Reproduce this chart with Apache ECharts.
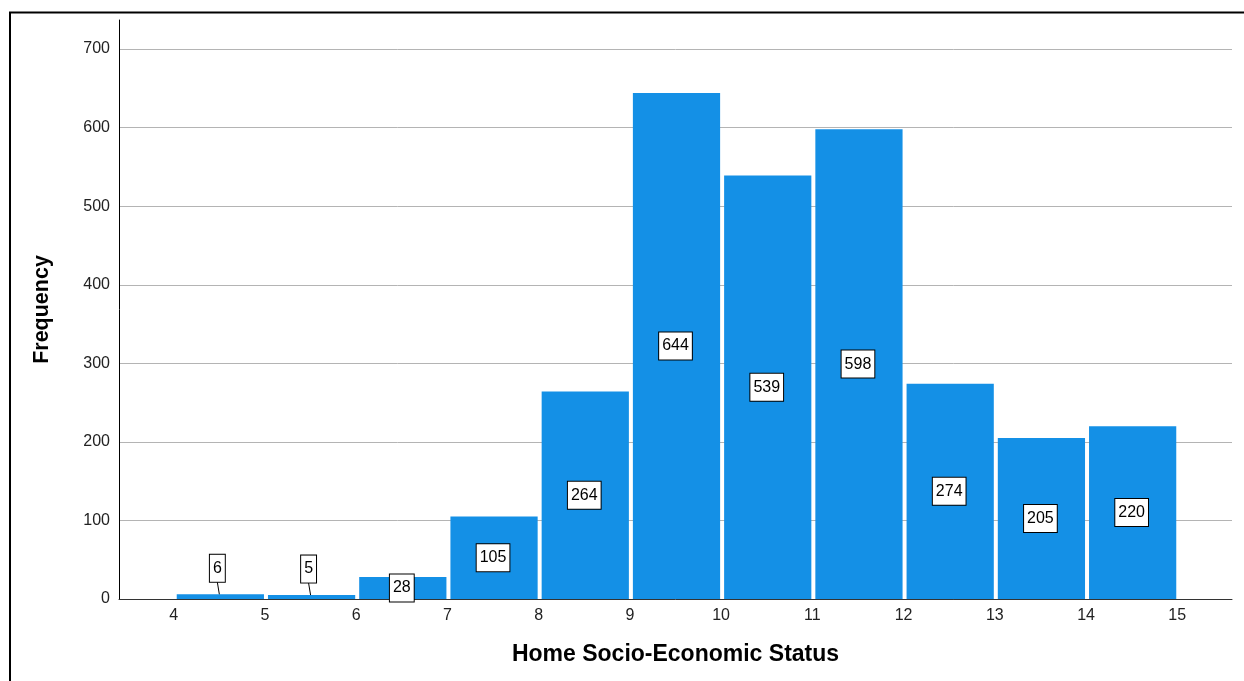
<!DOCTYPE html>
<html>
<head>
<meta charset="utf-8">
<script src="https://cdn.jsdelivr.net/npm/echarts@6/dist/echarts.min.js"></script>
<style>html,body{margin:0;padding:0;background:#fff}#c{width:1244px;height:681px}</style>
</head>
<body>
<div id="c"></div>
<script>
var binStarts = [4, 5, 6, 7, 8, 9, 10, 11, 12, 13, 14];
var binEnds = [5, 6, 7, 8, 9, 10, 11, 12, 13, 14, 15];
var frequencies = [6, 5, 28, 105, 264, 644, 539, 598, 274, 205, 220];
var xTickValues = [4, 5, 6, 7, 8, 9, 10, 11, 12, 13, 14, 15];
var xTitle = 'Home Socio-Economic Status';
var yTitle = 'Frequency';

var data = binStarts.map(function (s, i) { return [s, binEnds[i], frequencies[i]]; });
var chart = echarts.init(document.getElementById('c'), null, { renderer: 'canvas' });
var FONT = 'Arial, "Liberation Sans", sans-serif';

function renderItem(params, api) {
  var s = api.value(0), e = api.value(1), v = api.value(2);
  var p0 = api.coord([s, v]);
  var p1 = api.coord([e, 0]);
  var x0 = p0[0] + 3, x1 = p1[0] - 1;
  var children = [{
    type: 'rect',
    shape: { x: x0, y: p0[1], width: x1 - x0, height: p1[1] - p0[1] },
    style: { fill: '#1490e6' }
  }];
  var cx = (p0[0] + p1[0]) / 2;
  var barH = p1[1] - p0[1];
  var labelStyle = {
    text: String(v), font: '16px ' + FONT, fill: '#000',
    align: 'center', verticalAlign: 'middle',
    backgroundColor: '#fff', borderColor: '#000', borderWidth: 1,
    padding: [5, 3, 4, 3], lineHeight: 18
  };
  if (barH < 12) {
    var boxBottom = p0[1] - 12;
    children.push({
      type: 'line',
      shape: { x1: cx - 2, y1: boxBottom, x2: cx, y2: p0[1] },
      style: { stroke: '#000', lineWidth: 1 }
    });
    children.push({ type: 'text', x: cx - 2, y: boxBottom - 14, style: labelStyle, z2: 10 });
  } else {
    children.push({ type: 'text', x: cx, y: (p0[1] + p1[1]) / 2, style: labelStyle, z2: 10 });
  }
  return { type: 'group', children: children };
}

chart.setOption({
  animation: false,
  backgroundColor: '#fff',
  grid: { left: 119, right: 12, top: 20, bottom: 82, containLabel: false },
  xAxis: {
    type: 'value', min: 3.4, max: 15.6,
    name: xTitle, nameLocation: 'middle', nameGap: 44,
    nameTextStyle: { fontFamily: FONT, fontWeight: 'bold', fontSize: 23, color: '#000' },
    axisLine: { show: true, onZero: false, lineStyle: { color: '#333', width: 1 } },
    axisTick: { show: false },
    splitLine: { show: false },
    axisLabel: { customValues: xTickValues, fontFamily: FONT, fontSize: 16, color: '#222', margin: 9 }
  },
  yAxis: {
    type: 'value', min: 0, max: 737, interval: 100,
    name: yTitle, nameLocation: 'middle', nameGap: 66,
    nameTextStyle: { fontFamily: FONT, fontWeight: 'bold', fontSize: 21.5, color: '#000' },
    axisLine: { show: true, lineStyle: { color: '#000', width: 1 } },
    axisTick: { show: false },
    splitLine: { show: true, showMaxLine: false, lineStyle: { color: '#b4b4b4', width: 1 } },
    axisLabel: { fontFamily: FONT, fontSize: 16, color: '#222', margin: 9, showMaxLabel: false }
  },
  series: [{
    type: 'custom',
    renderItem: renderItem,
    encode: { x: [0, 1], y: 2 },
    data: data
  }],
  graphic: [
    { type: 'line', shape: { x1: 10, y1: 12, x2: 10, y2: 681 }, style: { stroke: '#000', lineWidth: 2 }, z: 100 },
    { type: 'line', shape: { x1: 9, y1: 12.5, x2: 1244, y2: 12.5 }, style: { stroke: '#000', lineWidth: 2 }, z: 100 }
  ]
});
</script>
</body>
</html>
